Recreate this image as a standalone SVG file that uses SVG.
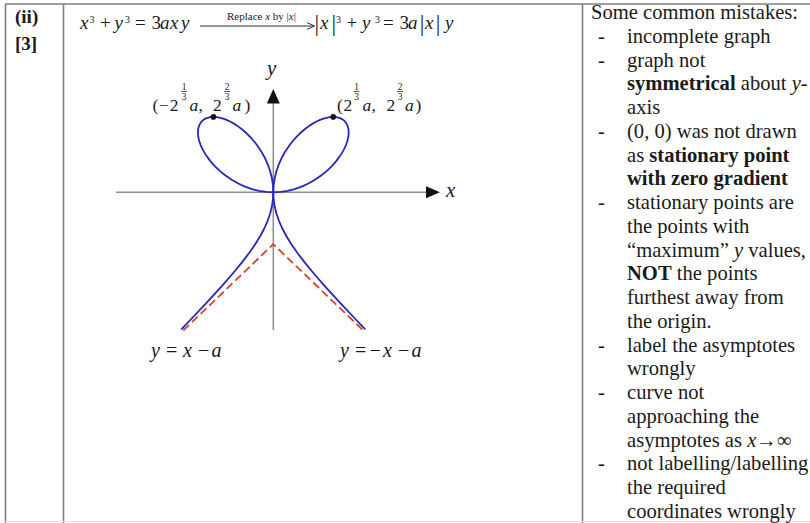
<svg xmlns="http://www.w3.org/2000/svg" width="810" height="523" viewBox="0 0 810 523">
<defs>
<style>
text{font-family:"Liberation Serif","Times New Roman",serif;fill:#1a1a1a}
.it{font-style:italic}
.b{font-weight:bold}
.frame{stroke:#7f7f7f;stroke-width:1.6;fill:none}
.axis{stroke:#8c8c8c;stroke-width:1.5;fill:none}
.curve{stroke:#2828b8;stroke-width:0.038;fill:none;stroke-linejoin:round;stroke-linecap:round}
.asym{stroke:#d4432e;stroke-width:1.8;fill:none;stroke-dasharray:8 4}
.fr{font-size:9.5px;text-anchor:middle}
.fb{stroke:#1a1a1a;stroke-width:0.7}
.m{font-size:19px}
.sup{font-size:10px}
.note{font-size:20.6px}
</style>
<path id="half" d="M0,0 L0.15,0.0075 L0.2997,0.03 L0.4485,0.0673 L0.5952,0.119 L0.7385,0.1846 L0.8763,0.2629 L1.0068,0.3524 L1.1278,0.4511 L1.2373,0.5568 L1.3333,0.6667 L1.4146,0.7781 L1.4803,0.8882 L1.5299,0.9944 L1.5637,1.0946 L1.5824,1.1868 L1.5873,1.2698 L1.5798,1.3428 L1.5616,1.4054 L1.5344,1.4577 L1.5,1.5 L1.4577,1.5344 L1.4054,1.5616 L1.3428,1.5798 L1.2698,1.5873 L1.1868,1.5824 L1.0946,1.5637 L0.9944,1.5299 L0.8882,1.4803 L0.7781,1.4146 L0.6667,1.3333 L0.5568,1.2373 L0.4511,1.1278 L0.3524,1.0068 L0.2629,0.8763 L0.1846,0.7385 L0.119,0.5952 L0.0673,0.4485 L0.03,0.2997 L0.0075,0.15 L0,0 L0.0075,-0.15 L0.03,-0.3003 L0.0677,-0.4515 L0.121,-0.6048 L0.1905,-0.7619 L0.2775,-0.925 L0.384,-1.097 L0.5128,-1.2821 L0.6684,-1.4854 L0.8571,-1.7143 L1.0886,-1.9793 L1.3776,-2.2959 L1.7474,-2.6883 L1.926,-2.8746"/>
</defs>
<rect width="810" height="523" fill="#ffffff"/>

<g id="table">
<line class="frame" x1="5" y1="4" x2="810" y2="4"/>
<line class="frame" x1="5.5" y1="4" x2="5.5" y2="523"/>
<line class="frame" x1="63.5" y1="4" x2="63.5" y2="523"/>
<line class="frame" x1="582.5" y1="4" x2="582.5" y2="523"/>
<line x1="5" y1="521.5" x2="810" y2="521.5" stroke="#e4e4e4" stroke-width="1"/>
</g>

<g id="label-col">
<text class="b" x="15" y="23" font-size="19">(ii)</text>
<text class="b" x="15" y="50" font-size="19">[3]</text>
</g>

<g id="formula">
<text class="m" y="29"><tspan class="it" x="80">x</tspan><tspan x="100">+</tspan><tspan class="it" x="114.5">y</tspan><tspan x="135">=</tspan><tspan x="151.5">3</tspan><tspan class="it" x="160">a</tspan><tspan class="it" x="170">x</tspan><tspan class="it" x="181">y</tspan></text>
<text class="sup" y="22.5"><tspan x="89.5">3</tspan><tspan x="125">3</tspan></text>
<text x="227" y="19.5" font-size="11">Replace <tspan class="it">x</tspan> by |<tspan class="it">x</tspan>|</text>
<g id="replace-arrow">
<line x1="200" y1="26" x2="313" y2="26" stroke="#1a1a1a" stroke-width="0.9"/>
<path d="M307,22.6 L314.5,26 L307,29.4" stroke="#1a1a1a" stroke-width="0.9" fill="none"/>
</g>
<text font-size="23" y="30.5"><tspan x="314.4">|</tspan><tspan x="331.6">|</tspan><tspan x="419.7">|</tspan><tspan x="435.7">|</tspan></text>
<text class="m" y="29"><tspan class="it" x="320">x</tspan><tspan x="346.5">+</tspan><tspan class="it" x="362">y</tspan><tspan x="383">=</tspan><tspan x="399.5">3</tspan><tspan class="it" x="408">a</tspan><tspan class="it" x="425">x</tspan><tspan class="it" x="445">y</tspan></text>
<text class="sup" y="22.5"><tspan x="336">3</tspan><tspan x="375">3</tspan></text>
</g>

<g id="axes">
<line class="axis" x1="116" y1="192.3" x2="427" y2="192.3"/>
<polygon points="426,186.3 440,192.3 426,198.3" fill="#111"/>
<line class="axis" x1="273.3" y1="330" x2="273.3" y2="102"/>
<polygon points="273.3,89 266.8,103.5 279.8,103.5" fill="#111"/>
<text class="it" x="446" y="197" font-size="21">x</text>
<text class="it" x="267" y="75" font-size="21">y</text>
</g>

<g id="asymptotes">
<polyline class="asym" points="183.3,330.5 273.3,244.2 363.3,330.5"/>
</g>

<g id="curve">
<use href="#half" class="curve" transform="translate(273.3 192.3) scale(47.5 -47.5)"/>
<use href="#half" class="curve" transform="translate(273.3 192.3) scale(-47.5 -47.5)"/>
</g>

<g id="points">
<circle cx="213.4" cy="116.9" r="2.8" fill="#111"/>
<circle cx="333.2" cy="116.9" r="2.8" fill="#111"/>
</g>

<g id="label-left">
<text font-size="17.5" y="111"><tspan x="152.5">(</tspan><tspan x="158.8">−</tspan><tspan x="169.8">2</tspan><tspan class="it" x="189.5">a</tspan><tspan x="198.5">,</tspan><tspan x="213">2</tspan><tspan class="it" x="232.5">a</tspan><tspan x="244.5">)</tspan></text>
<text class="fr" x="184" y="89.5">1</text>
<line class="fb" x1="181" y1="91.5" x2="187" y2="91.5"/>
<text class="fr" x="184" y="99.5">3</text>
<text class="fr" x="227" y="89.5">2</text>
<line class="fb" x1="224" y1="91.5" x2="230" y2="91.5"/>
<text class="fr" x="227" y="99.5">3</text>
</g>

<g id="label-right">
<text font-size="17.5" y="111"><tspan x="337">(</tspan><tspan x="343.5">2</tspan><tspan class="it" x="362.5">a</tspan><tspan x="371.5">,</tspan><tspan x="386.5">2</tspan><tspan class="it" x="405">a</tspan><tspan x="415.5">)</tspan></text>
<text class="fr" x="356.5" y="89.5">1</text>
<line class="fb" x1="353.5" y1="91.5" x2="359.5" y2="91.5"/>
<text class="fr" x="356.5" y="99.5">3</text>
<text class="fr" x="400" y="89.5">2</text>
<line class="fb" x1="397" y1="91.5" x2="403" y2="91.5"/>
<text class="fr" x="400" y="99.5">3</text>
</g>

<g id="asym-labels">
<text font-size="20" y="357"><tspan class="it" x="151">y</tspan><tspan x="166">=</tspan><tspan class="it" x="183">x</tspan><tspan x="198">−</tspan><tspan class="it" x="211.5">a</tspan></text>
<text font-size="20" y="357"><tspan class="it" x="340">y</tspan><tspan x="355">=</tspan><tspan x="369.5">−</tspan><tspan class="it" x="383">x</tspan><tspan x="398">−</tspan><tspan class="it" x="411.5">a</tspan></text>
</g>

<g id="notes">
<text class="note" x="591" y="19">Some common mistakes:</text>
<text class="note" x="598" y="42.75">-</text>
<text class="note" x="627" y="42.75">incomplete graph</text>
<text class="note" x="598" y="66.5">-</text>
<text class="note" x="627" y="66.5">graph not</text>
<text class="note" x="627" y="90.25"><tspan class="b">symmetrical</tspan> about <tspan class="it">y</tspan>-</text>
<text class="note" x="627" y="114">axis</text>
<text class="note" x="598" y="137.75">-</text>
<text class="note" x="627" y="137.75">(0, 0) was not drawn</text>
<text class="note" x="627" y="161.5">as <tspan class="b">stationary point</tspan></text>
<text class="note b" x="627" y="185.25">with zero gradient</text>
<text class="note" x="598" y="209">-</text>
<text class="note" x="627" y="209">stationary points are</text>
<text class="note" x="627" y="232.75">the points with</text>
<text class="note" x="627" y="256.5">“maximum” <tspan class="it">y</tspan> values,</text>
<text class="note" x="627" y="280.25"><tspan class="b">NOT</tspan> the points</text>
<text class="note" x="627" y="304">furthest away from</text>
<text class="note" x="627" y="327.75">the origin.</text>
<text class="note" x="598" y="351.5">-</text>
<text class="note" x="627" y="351.5">label the asymptotes</text>
<text class="note" x="627" y="375.25">wrongly</text>
<text class="note" x="598" y="399">-</text>
<text class="note" x="627" y="399">curve not</text>
<text class="note" x="627" y="422.75">approaching the</text>
<text class="note" x="627" y="446.5">asymptotes as <tspan class="it">x</tspan>→∞</text>
<text class="note" x="598" y="470.25">-</text>
<text class="note" x="627" y="470.25">not labelling/labelling</text>
<text class="note" x="627" y="494">the required</text>
<text class="note" x="627" y="517.75">coordinates wrongly</text>
</g>
</svg>
